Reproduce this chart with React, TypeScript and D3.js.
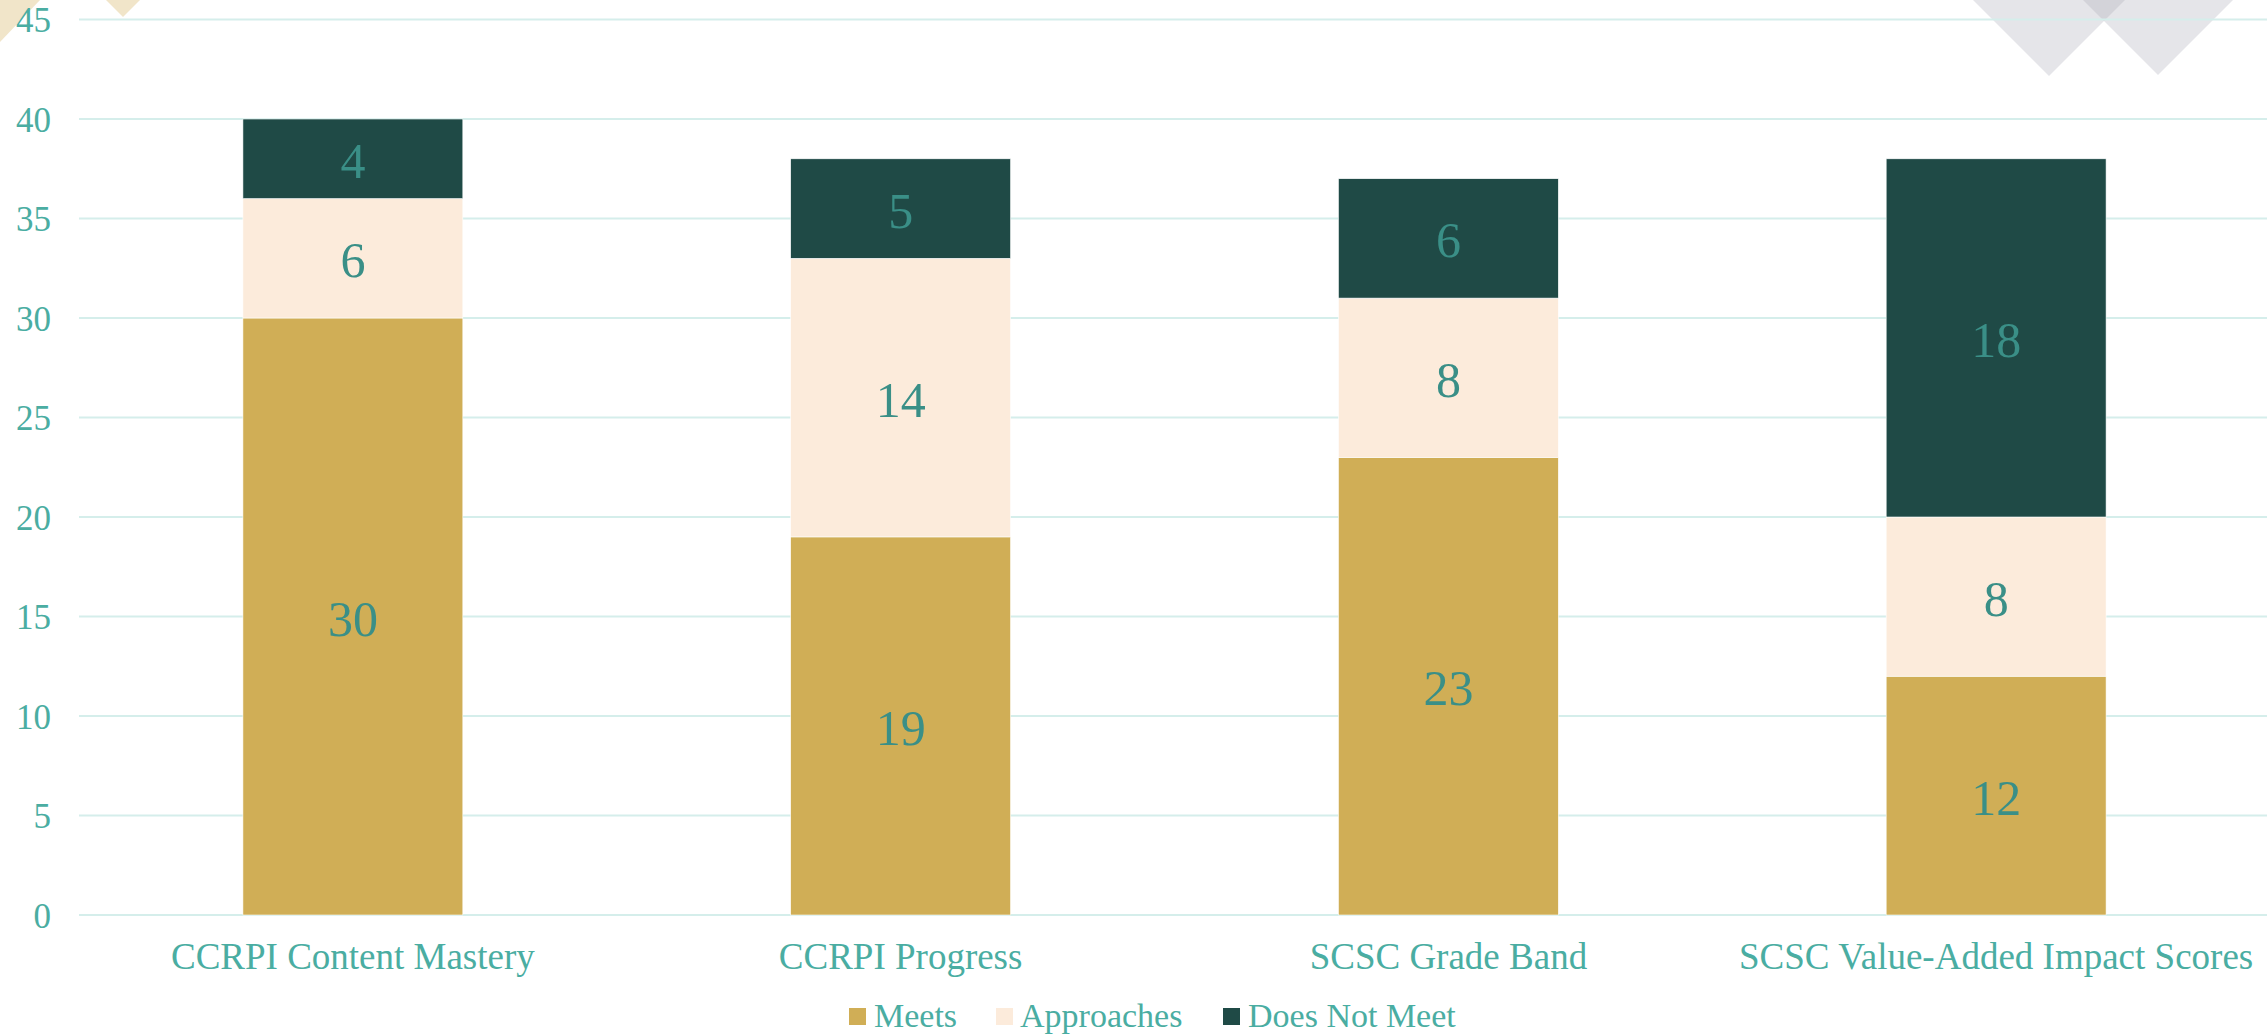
import React from "react";
import * as d3 from "d3";

const categories = ["CCRPI Content Mastery", "CCRPI Progress", "SCSC Grade Band", "SCSC Value-Added Impact Scores"];
const seriesNames = ["Meets", "Approaches", "Does Not Meet"];
const meets = [30, 19, 23, 12];
const approaches = [6, 14, 8, 8];
const doesNotMeet = [4, 5, 6, 18];
const yTicks = [0, 5, 10, 15, 20, 25, 30, 35, 40, 45];
const colors = ["#D0AE56", "#FCEBDB", "#1F4A46"];

const W = 2267;
const H = 1036;
const FONT = "'Liberation Serif', 'Times New Roman', serif";
const AXIS_TEXT = "#4AADA2";
const LABEL_TEXT = "#3A8F87";
const GRID = "#D5EEEB";

export default function App() {
  const x = d3.scaleBand<string>().domain(categories).range([79, 2270]).paddingInner(0.5985).paddingOuter(0.29925);
  const y = d3.scaleLinear().domain([0, 45]).range([915, 19.5]);

  const rows = categories.map((c, i) => ({ cat: c, Meets: meets[i], Approaches: approaches[i], "Does Not Meet": doesNotMeet[i] }));
  const stacked = d3.stack<any>().keys(seriesNames)(rows);

  const legendItems = [
    { name: "Meets", sx: 849, tx: 874 },
    { name: "Approaches", sx: 996, tx: 1020 },
    { name: "Does Not Meet", sx: 1223, tx: 1248 },
  ];

  return (
    <svg width={W} height={H} style={{ position: "absolute", left: 0, top: 0, background: "#fff" }} fontFamily={FONT}>
      {/* decorations */}
      <polygon points="0,0 40,0 0,42" fill="#F1E5C9" />
      <polygon points="106,0 140,0 123,17" fill="#F1E5C9" />
      <polygon points="1973,0 2125,0 2049,76" fill="#A9A9B6" opacity={0.3} />
      <polygon points="2083,0 2233,0 2158,75" fill="#A9A9B6" opacity={0.3} />

      {/* gridlines */}
      {yTicks.map((t) => (
        <line key={t} x1={79} x2={W} y1={y(t)} y2={y(t)} stroke={GRID} strokeWidth={2} />
      ))}
      {/* y tick labels */}
      {yTicks.map((t) => (
        <text key={"l" + t} x={51} y={y(t)} dy="0.36em" textAnchor="end" fontSize={35} fill={AXIS_TEXT}>
          {t}
        </text>
      ))}

      {/* bars */}
      {stacked.map((s, si) => (
        <g key={s.key}>
          {s.map((d, i) => (
            <rect
              key={i}
              x={x(categories[i])}
              width={x.bandwidth()}
              y={y(d[1])}
              height={y(d[0]) - y(d[1])}
              fill={colors[si]}
              stroke="#fff"
              strokeWidth={0.6}
            />
          ))}
        </g>
      ))}
      {/* data labels */}
      {stacked.map((s) =>
        s.map((d, i) => (
          <text
            key={s.key + i}
            x={(x(categories[i]) as number) + x.bandwidth() / 2}
            y={y((d[0] + d[1]) / 2)}
            dy="0.38em"
            textAnchor="middle"
            fontSize={50}
            fill={LABEL_TEXT}
          >
            {d[1] - d[0]}
          </text>
        ))
      )}

      {/* x labels */}
      {categories.map((c) => (
        <text key={c} x={(x(c) as number) + x.bandwidth() / 2} y={969} textAnchor="middle" fontSize={37} fill={AXIS_TEXT}>
          {c}
        </text>
      ))}

      {/* legend */}
      {legendItems.map((l, i) => (
        <g key={l.name}>
          <rect x={l.sx} y={1008} width={17} height={17} fill={colors[i]} />
          <text x={l.tx} y={1027} fontSize={34} fill={AXIS_TEXT}>
            {l.name}
          </text>
        </g>
      ))}
    </svg>
  );
}
